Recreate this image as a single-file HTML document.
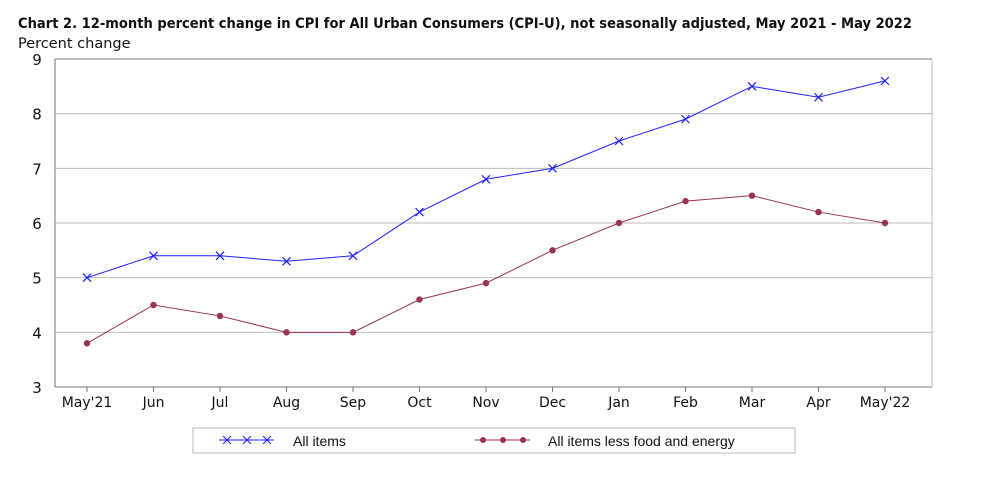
<!DOCTYPE html>
<html><head><meta charset="utf-8"><style>
body{margin:0;background:#fff;font-family:"DejaVu Sans","Liberation Sans",sans-serif;}
svg text{font-family:"DejaVu Sans","Liberation Sans",sans-serif;}
</style></head><body>
<svg id="c" width="981" height="490" viewBox="0 0 981 490" xmlns="http://www.w3.org/2000/svg">
<text x="18" y="28" font-size="14" font-weight="bold" fill="#111" textLength="894" lengthAdjust="spacingAndGlyphs">Chart 2. 12-month percent change in CPI for All Urban Consumers (CPI-U), not seasonally adjusted, May 2021 - May 2022</text>
<text x="18" y="48" font-size="14.5" fill="#111">Percent change</text>
<g id="grid"></g><g id="marks"></g>
<rect x="193" y="428" width="602" height="25" fill="none" stroke="#bbb"/>
<g>
<line x1="219" y1="440" x2="274" y2="440" stroke="#1f1fff"/>
<path d="M223,436l8,8M231,436l-8,8M243,436l8,8M251,436l-8,8M263,436l8,8M271,436l-8,8" stroke="#1f1fff"/>
<text x="293" y="446" font-size="14" fill="#111" style="font-family:'Liberation Sans',sans-serif">All items</text></g>
<g>
<line x1="475" y1="440" x2="530" y2="440" stroke="#993355"/>
<circle cx="483" cy="440" r="3" fill="#993355"/><circle cx="503" cy="440" r="3" fill="#993355"/><circle cx="523" cy="440" r="3" fill="#993355"/>
<text x="548" y="446" font-size="14" fill="#111" style="font-family:'Liberation Sans',sans-serif">All items less food and energy</text></g>
</svg>
<script>
const categories=["May'21","Jun","Jul","Aug","Sep","Oct","Nov","Dec","Jan","Feb","Mar","Apr","May'22"];
const allItems=[5.0,5.4,5.4,5.3,5.4,6.2,6.8,7.0,7.5,7.9,8.5,8.3,8.6];
const core=[3.8,4.5,4.3,4.0,4.0,4.6,4.9,5.5,6.0,6.4,6.5,6.2,6.0];
const yTicks=[3,4,5,6,7,8,9];
const NS="http://www.w3.org/2000/svg";
const L=55,R=932,T=59,B=387,ymin=3,ymax=9;
const x=i=>87+i*(885-87)/(categories.length-1);
const y=v=>B-(v-ymin)/(ymax-ymin)*(B-T);
function mk(t,a,p){const e=document.createElementNS(NS,t);for(const k in a)e.setAttribute(k,a[k]);p.appendChild(e);return e;}
const g=document.getElementById('grid'),m=document.getElementById('marks');
yTicks.forEach(v=>{
 const ln=mk('line',{x1:L,x2:R,y1:y(v),y2:y(v),stroke:v===ymin||v===ymax?'#777':'#bbb'},g);
 
 
 const t=mk('text',{x:L-18,y:y(v)+6,'font-size':15,fill:'#111','text-anchor':'middle'},g);t.textContent=v;
 
 
});
mk('line',{x1:L,x2:L,y1:T,y2:B,stroke:'#777'},g);
mk('line',{x1:R,x2:R,y1:T,y2:B,stroke:'#bbb'},g);
categories.forEach((c,i)=>{
 mk('line',{x1:x(i),x2:x(i),y1:B,y2:B+5,stroke:'#777'},g);
 const t=mk('text',{x:x(i),y:B+20,'font-size':14,fill:'#111','text-anchor':'middle'},g);t.textContent=c;
 
 
});
const p1=mk('polyline',{points:allItems.map((v,i)=>x(i)+','+y(v)).join(' '),fill:'none',stroke:'#1f1fff'},m);


allItems.forEach((v,i)=>{const X=x(i),Y=y(v);
 const p=mk('path',{d:`M${X-4},${Y-4}l8,8M${X+4},${Y-4}l-8,8`,stroke:'#1f1fff','stroke-width':1.2},m);
 
 });
const p2=mk('polyline',{points:core.map((v,i)=>x(i)+','+y(v)).join(' '),fill:'none',stroke:'#993355'},m);


core.forEach((v,i)=>{const c=mk('circle',{cx:x(i),cy:y(v),r:3.2,fill:'#993355'},m);
 
 });
</script>
</body></html>
